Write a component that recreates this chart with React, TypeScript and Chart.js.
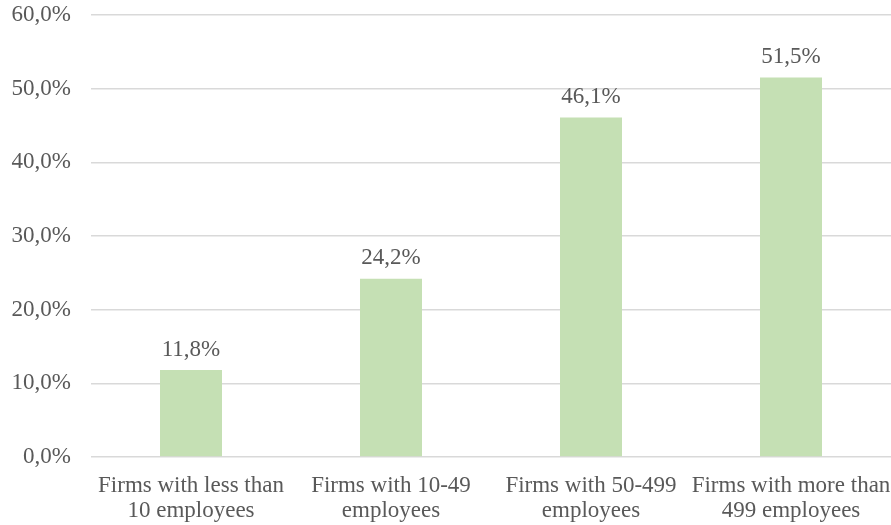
import React, { useEffect, useRef } from "react";
import { Chart, registerables } from "chart.js";

Chart.register(...registerables);

const categories: string[][] = [
  ["Firms with less than", "10 employees"],
  ["Firms with 10-49", "employees"],
  ["Firms with 50-499", "employees"],
  ["Firms with more than", "499 employees"],
];
const values: number[] = [11.8, 24.2, 46.1, 51.5];
const yTicks: number[] = [0, 10, 20, 30, 40, 50, 60];

const FONT = "'Liberation Serif', 'Times New Roman', serif";
const TEXT = "#595959";

const fmt = (v: number) => v.toFixed(1).replace(".", ",") + "%";

const labelPlugin = {
  id: "barLabels",
  afterDatasetsDraw(chart: any) {
    const ctx = chart.ctx;
    const meta = chart.getDatasetMeta(0);
    ctx.save();
    ctx.font = `23px ${FONT}`;
    ctx.fillStyle = TEXT;
    ctx.textAlign = "center";
    ctx.textBaseline = "bottom";
    meta.data.forEach((el: any, i: number) => {
      ctx.fillText(fmt(values[i]), el.x, el.y - 9);
    });
    ctx.restore();
  },
};

export default function App() {
  const ref = useRef<HTMLCanvasElement>(null);
  useEffect(() => {
    document.body.style.margin = "0";
    const chart = new Chart(ref.current!, {
      type: "bar",
      data: {
        labels: categories,
        datasets: [
          {
            data: values,
            backgroundColor: "#C5E0B4",
            categoryPercentage: 1,
            barPercentage: 0.31,
          },
        ],
      },
      options: {
        animation: false,
        responsive: false,
        maintainAspectRatio: false,
        layout: { padding: { top: 15, right: 0, left: 0, bottom: 0 } },
        plugins: { legend: { display: false }, tooltip: { enabled: false } },
        scales: {
          x: {
            grid: { display: false },
            border: { display: false },
            ticks: {
              color: TEXT,
              font: { family: FONT, size: 23, lineHeight: 1.1 },
              padding: 8,
              maxRotation: 0,
              autoSkip: false,
            },
            afterFit: (axis: any) => {
              axis.height = 68;
              axis.paddingLeft = 0;
              axis.paddingRight = 0;
              axis.paddingTop = 0;
              axis.paddingBottom = 0;
            },
          },
          y: {
            min: 0,
            max: 60,
            border: { display: false },
            grid: { color: "#D9D9D9", lineWidth: 1.5, drawTicks: false },
            afterBuildTicks: (axis: any) => {
              axis.ticks = yTicks.map((v) => ({ value: v }));
            },
            ticks: {
              color: TEXT,
              font: { family: FONT, size: 23 },
              padding: 20,
              callback: (v: any) => fmt(Number(v)),
            },
            afterFit: (axis: any) => {
              axis.width = 91;
              axis.paddingTop = 0;
              axis.paddingBottom = 0;
              axis.paddingLeft = 0;
              axis.paddingRight = 0;
            },
          },
        },
      },
      plugins: [labelPlugin],
    });
    return () => chart.destroy();
  }, []);
  return (
    <div style={{ width: 891, height: 525 }}>
      <canvas ref={ref} width={891} height={525} style={{ display: "block" }} />
    </div>
  );
}
